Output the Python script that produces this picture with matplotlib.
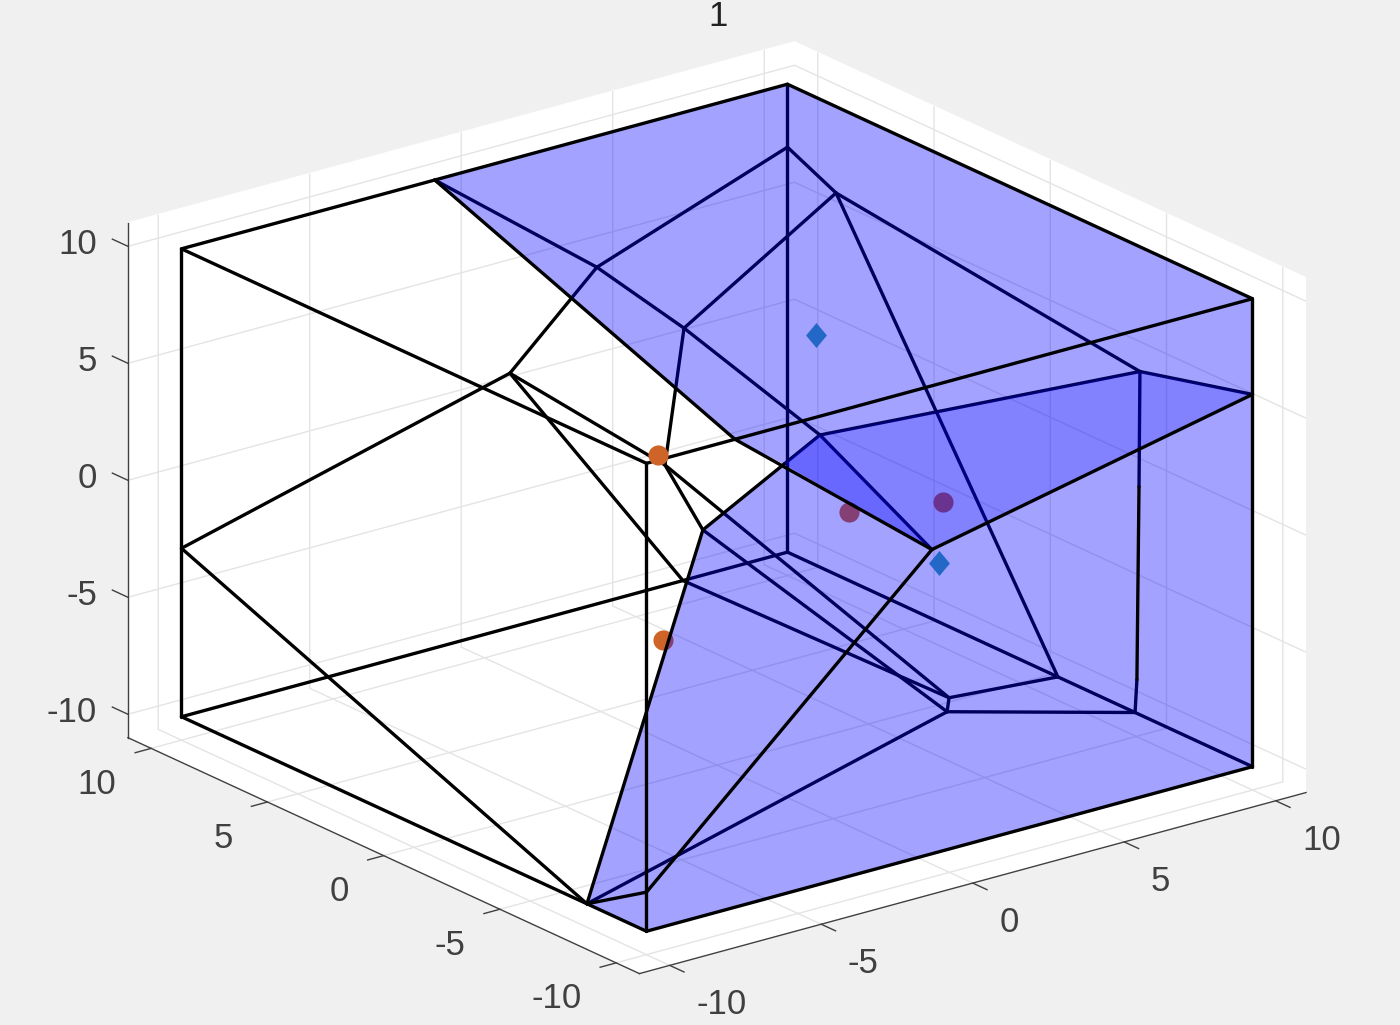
import numpy as np
import matplotlib
matplotlib.use('Agg')
import matplotlib.pyplot as plt
from mpl_toolkits.mplot3d.art3d import Poly3DCollection

plt.rcParams['font.family'] = ['Liberation Sans', 'DejaVu Sans']
plt.rcParams['axes.unicode_minus'] = False

# vertices of the cell diagram, index is the position in these lists
vx = [-10, -10, -10, 10, 10, 10, 10, -10, -1.64, 10, 10, 3.71, 4, 0.84, -10,
      -2, -5, 0, -7.08, -0.58, 10, 10, -10, -10, 6.13, 6.80, 10, 10, 6.55,
      -1.5, 10, 10]
vy = [10, 10, -10, -10, -10, 10, 10, -10, 10, 10, 7.91, 10, 6.63, 10, 10,
      -0.37, -5.91, -4.43, -10, -10, -10, -5.16, -7.44, -10, -1.91, -1.12,
      -1.63, -4.95, 10, -4.84, -5.12, -5.03]
vz = [10, -10, -10, -10, 10, 10, -10, 10, 10, 7.31, 6.31, 4.39, 3.23, 0.87,
      -2.8, 2.70, 3.52, 5.14, 10, 3.0, 5.91, 4.67, -10, -8.33, -10, -10, -10,
      -10, -10, 4.61, -0.27, -8.56]

# edges behind the blue faces
back_edges = [(0, 7), (7, 18), (1, 6), (5, 6), (6, 26), (26, 27), (27, 3),
              (0, 8), (8, 11), (11, 9), (9, 10), (10, 12), (10, 21), (10, 26),
              (21, 20), (11, 13), (13, 14), (14, 22), (13, 28), (13, 15),
              (11, 12), (12, 17), (12, 15), (15, 16), (15, 25), (16, 24),
              (28, 25), (25, 24), (25, 26), (24, 27), (24, 22), (17, 21),
              (17, 19), (29, 17), (21, 30), (31, 27)]
# edges in front of them
front_edges = [(18, 4), (8, 5), (5, 4), (4, 3), (3, 2), (2, 22), (22, 1),
               (1, 0), (2, 7), (8, 18), (18, 19), (19, 20), (16, 29), (16, 22),
               (19, 23), (23, 22), (30, 31)]

# blue faces as vertex loops
outline = [8, 5, 4, 3, 2, 22, 16, 29, 18]
overlap = [29, 17, 21, 20, 19]
wedge = [29, 17, 19]

# points
circle_x = [-5, -3, 3, 6]
circle_y = [-3.98, -1.59, -1.77, -1.90]
circle_z = [5.84, -3.87, -0.42, -0.98]
diamond_x = [4, 6]
diamond_y = [0.95, -1.73]
diamond_z = [5.54, -3.67]

ticks = [-10, -5, 0, 5, 10]
lim = 11

fig = plt.figure(figsize=(14, 10.25), dpi=100, facecolor='#f0f0f0')
ax = fig.add_axes([214.8 / 1400, 15.1 / 1025, 977.9 / 1400, 977.9 / 1025],
                  projection='3d', computed_zorder=False, proj_type='ortho',
                  facecolor='none')
ax.view_init(elev=20.73, azim=-127.5)
ax.set_box_aspect((1, 1, 0.655), zoom=1.3)
ax.set_xlim(-lim, lim, view_margin=0)
ax.set_ylim(-lim, lim, view_margin=0)
ax.set_zlim(-lim, lim, view_margin=0)
ax.set_xticks(ticks)
ax.set_yticks(ticks)
ax.set_zticks(ticks)

for axis in (ax.xaxis, ax.yaxis, ax.zaxis):
    axis.set_pane_color((1, 1, 1, 1))
    axis.pane.set_edgecolor('white')
    axis.line.set_color('#404040')
    axis.line.set_linewidth(1.0)
    axis._axinfo['grid'].update(color='#e4e4e4', linewidth=1.0)
    axis._axinfo['tick'].update(linewidth={True: 1.0, False: 1.0},
                                color='#404040')

# ticks point out of the box, z ticks run along y like in the original
ax.xaxis._axinfo['tick'].update(inward_factor=0.35, outward_factor=0)
ax.yaxis._axinfo['tick'].update(inward_factor=0.30, outward_factor=0)
ax.zaxis._axinfo['tick'].update(inward_factor=0, outward_factor=0.38)
ax.zaxis._get_tickdir = lambda position: 1

ax.tick_params(labelsize=25, labelcolor='#404040', colors='#404040')
ax.tick_params(axis='x', pad=11.2)
ax.tick_params(axis='y', pad=11)
ax.tick_params(axis='z', pad=1.6)
for axis, align in ((ax.xaxis, 'left'), (ax.yaxis, 'right'), (ax.zaxis, 'right')):
    for tick in axis.get_major_ticks():
        tick.label1.set_ha(align)
        tick.label1.set_va('center')


def draw_edges(edges, order):
    for i, j in edges:
        ax.plot([vx[i], vx[j]], [vy[i], vy[j]], [vz[i], vz[j]], color='black',
                lw=2.4, solid_capstyle='round', zorder=order, clip_on=False)


def loop(ids):
    return [[(vx[i], vy[i], vz[i]) for i in ids]]


def add_face(ids, order):
    face = Poly3DCollection(loop(ids), facecolor=(0, 0, 1, 0.2),
                            edgecolor='none', zorder=order)
    ax.add_collection3d(face)
    face.set_clip_on(False)


draw_edges(back_edges, 2)
ax.plot(circle_x, circle_y, circle_z, ls='none', marker='o', ms=14.5,
        color='#cf6428', mew=0, zorder=3, clip_on=False)
add_face(outline, 4)
ax.plot(diamond_x, diamond_y, diamond_z, ls='none', ms=18, color='#2c83ba', mew=0,
        marker=[(0, -1.2), (1, 0), (0, 1.2), (-1, 0)], zorder=5, clip_on=False)
add_face(outline, 6)
add_face(overlap, 7)
add_face(wedge, 8)
draw_edges(front_edges, 9)

ax.set_title('1', fontsize=25, color='#222222', x=0.5146, y=1.0936, pad=0)

fig.savefig('out.png', dpi=100, facecolor=fig.get_facecolor())
